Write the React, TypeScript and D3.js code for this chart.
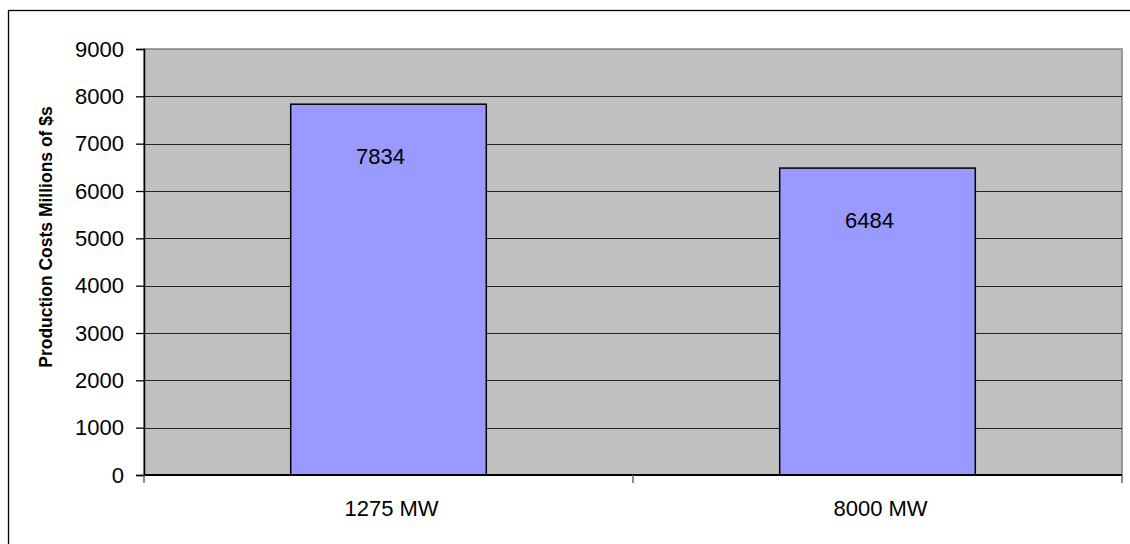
import React, { useEffect, useRef } from "react";
import * as d3 from "d3";

const categories = ["1275 MW", "8000 MW"];
const costs = [7834, 6484];
const yTicks = [0, 1000, 2000, 3000, 4000, 5000, 6000, 7000, 8000, 9000];
const yTitle = "Production Costs Millions of $s";

const App: React.FC = () => {
  const svgRef = useRef<SVGSVGElement | null>(null);
  const width = 1130;
  const height = 544;

  useEffect(() => {
    const margin = { top: 49, right: 8, bottom: 69, left: 144 };
    const innerWidth = width - margin.left - margin.right;
    const innerHeight = height - margin.top - margin.bottom;

    const svg = d3.select(svgRef.current);
    svg.selectAll("*").remove();

    // outer frame (runs off the right/bottom edge like the original)
    svg
      .append("rect")
      .attr("x", 8.5)
      .attr("y", 10.5)
      .attr("width", width)
      .attr("height", height)
      .attr("fill", "#fff")
      .attr("stroke", "#000")
      .attr("stroke-width", 1.3);

    const g = svg
      .append("g")
      .attr("transform", `translate(${margin.left},${margin.top})`);

    // Scales
    const x = d3
      .scaleBand<string>()
      .domain(categories)
      .range([0, innerWidth])
      .paddingInner(0.6)
      .paddingOuter(0.3);

    const y = d3
      .scaleLinear()
      .domain([0, d3.max(yTicks)!])
      .range([innerHeight, 0]);

    // plot background
    g.append("rect")
      .attr("width", innerWidth)
      .attr("height", innerHeight)
      .attr("fill", "#c0c0c0")
      .attr("stroke", "#808080")
      .attr("stroke-width", 1.5);

    // gridlines
    g.append("g")
      .selectAll("line")
      .data(yTicks.filter((t) => t > 0 && t < 9000))
      .enter()
      .append("line")
      .attr("x1", 0)
      .attr("x2", innerWidth)
      .attr("y1", (d) => Math.round(y(d)) + 0.5)
      .attr("y2", (d) => Math.round(y(d)) + 0.5)
      .attr("stroke", "#222")
      .attr("stroke-width", 1);

    // Bars
    g.selectAll("rect.bar")
      .data(costs)
      .enter()
      .append("rect")
      .attr("class", "bar")
      .attr("x", (_, i) => x(categories[i])!)
      .attr("y", (d) => y(d))
      .attr("width", x.bandwidth())
      .attr("height", (d) => innerHeight - y(d))
      .attr("fill", "#9999ff")
      .attr("stroke", "#000")
      .attr("stroke-width", 1.5);

    // value labels
    g.selectAll("text.val")
      .data(costs)
      .enter()
      .append("text")
      .attr("class", "val")
      .attr("x", (_, i) => x(categories[i])! + x.bandwidth() / 2 - 8)
      .attr("y", (d) => y(d) + 60)
      .attr("text-anchor", "middle")
      .style("font-family", "'Liberation Sans', Arial, sans-serif")
      .style("font-size", "22px")
      .attr("fill", "#000")
      .text((d) => String(d));

    // Y axis
    const yAxis = g
      .append("g")
      .call(
        d3
          .axisLeft(y)
          .tickValues(yTicks)
          .tickSize(8)
          .tickPadding(12)
          .tickFormat((d) => String(d))
      );
    yAxis.select(".domain").attr("stroke", "#000").attr("stroke-width", 1.5);
    yAxis.selectAll(".tick line").attr("stroke", "#000").attr("stroke-width", 1.3);
    yAxis
      .selectAll(".tick text")
      .attr("fill", "#000")
      .style("font-family", "'Liberation Sans', Arial, sans-serif")
      .style("font-size", "22px");

    // X axis
    const xAxis = g
      .append("g")
      .attr("transform", `translate(0,${innerHeight})`);
    xAxis
      .append("line")
      .attr("x1", 0)
      .attr("x2", innerWidth)
      .attr("stroke", "#000")
      .attr("stroke-width", 2);
    const bounds = [0, x.step(), innerWidth];
    xAxis
      .selectAll("line.tk")
      .data(bounds)
      .enter()
      .append("line")
      .attr("class", "tk")
      .attr("x1", (d) => d)
      .attr("x2", (d) => d)
      .attr("y1", 0)
      .attr("y2", 8)
      .attr("stroke", "#666")
      .attr("stroke-width", 1.5);
    xAxis
      .selectAll("text")
      .data(categories)
      .enter()
      .append("text")
      .attr("x", (d) => x(d)! + x.bandwidth() / 2 + 3)
      .attr("y", 41)
      .attr("text-anchor", "middle")
      .style("font-family", "'Liberation Sans', Arial, sans-serif")
      .style("font-size", "22px")
      .attr("fill", "#000")
      .text((d) => d);

    // Y title
    svg
      .append("text")
      .attr("transform", `translate(52,237) rotate(-90)`)
      .attr("text-anchor", "middle")
      .style("font-family", "'Liberation Sans', Arial, sans-serif")
      .style("font-size", "17.5px")
      .style("font-weight", "bold")
      .attr("fill", "#000")
      .text(yTitle);
  }, []);

  return (
    <svg
      ref={svgRef}
      width={width}
      height={height}
      style={{ position: "absolute", left: 0, top: 0 }}
    />
  );
};

export default App;
